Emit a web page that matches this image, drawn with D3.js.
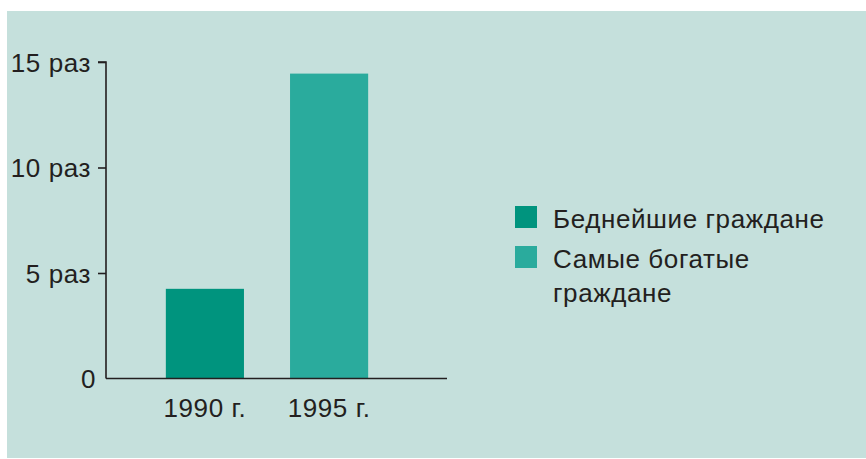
<!DOCTYPE html>
<html>
<head>
<meta charset="utf-8">
<title>Бедные и богатые</title>
<style>
body { margin: 0; background: #fff; }
svg text { font-family: "Liberation Sans", Arial, sans-serif; fill: #231f20; letter-spacing: 0.6px; }
.axis path, .axis line { stroke: #231f20; stroke-width: 1.6px; }
</style>
<script src="https://cdnjs.cloudflare.com/ajax/libs/d3/7.8.5/d3.min.js"></script>
</head>
<body>
<script>
// data
var years = ['1990 г.', '1995 г.'];
var values = [4.25, 14.45];
var barColors = ['#00947e', '#2aab9d'];
var yTicks = [0, 5, 10, 15];
var legendLabels = [['Беднейшие граждане'], ['Самые богатые', 'граждане']];

var width = 866, height = 459;

var svg = d3.select('body').append('svg')
    .attr('width', width)
    .attr('height', height);

// panel background
svg.append('rect')
    .attr('x', 7).attr('y', 11)
    .attr('width', width - 7).attr('height', 447)
    .attr('fill', '#c5e0dc');

var x = d3.scaleBand()
    .domain(years)
    .range([141, 393])
    .paddingInner(0.371)
    .paddingOuter(0.2);

var y = d3.scaleLinear()
    .domain([0, 15])
    .range([378.5, 62]);

var axisX0 = 106;

// bars
svg.selectAll('rect.bar')
    .data(values)
    .enter().append('rect')
    .attr('class', 'bar')
    .attr('x', function(d, i){ return x(years[i]); })
    .attr('width', x.bandwidth())
    .attr('y', function(d){ return y(d); })
    .attr('height', function(d){ return y(0) - y(d); })
    .attr('fill', function(d, i){ return barColors[i]; });

// y axis
var yAxis = svg.append('g')
    .attr('class', 'axis')
    .attr('transform', 'translate(' + axisX0 + ',0)')
    .call(d3.axisLeft(y)
        .tickValues(yTicks)
        .tickSize(8)
        .tickPadding(8)
        .tickFormat(function(d){ return d === 0 ? '0' : d + ' раз'; }));
yAxis.select('.domain').attr('d', 'M-8,' + y(15) + 'H0V' + y(0));
yAxis.selectAll('text')
    .style('font-size', '26px')
    .attr('dy', '0.36em')
    .attr('x', function(d){ return d === 0 ? -10 : -15; });
yAxis.selectAll('.tick').filter(function(d){ return d === 0; }).select('line').remove();

// x axis line
svg.append('line')
    .attr('x1', axisX0).attr('x2', 447)
    .attr('y1', y(0)).attr('y2', y(0))
    .attr('stroke', '#231f20')
    .attr('stroke-width', 1.6);

// x labels
svg.selectAll('text.xlab')
    .data(years)
    .enter().append('text')
    .attr('class', 'xlab')
    .attr('x', function(d){ return x(d) + x.bandwidth() / 2; })
    .attr('y', 417)
    .attr('text-anchor', 'middle')
    .style('font-size', '26px')
    .text(function(d){ return d; });

// legend
var legend = svg.selectAll('g.leg')
    .data(legendLabels)
    .enter().append('g')
    .attr('class', 'leg')
    .attr('transform', function(d, i){ return 'translate(515,' + (206 + i * 40) + ')'; });

legend.append('rect')
    .attr('width', 22).attr('height', 22)
    .attr('fill', function(d, i){ return barColors[i]; });

legend.selectAll('text')
    .data(function(d){ return d; })
    .enter().append('text')
    .attr('x', 38)
    .attr('y', function(d, j){ return 22 + j * 34; })
    .style('font-size', '26px')
    .text(function(d){ return d; });
</script>
</body>
</html>
